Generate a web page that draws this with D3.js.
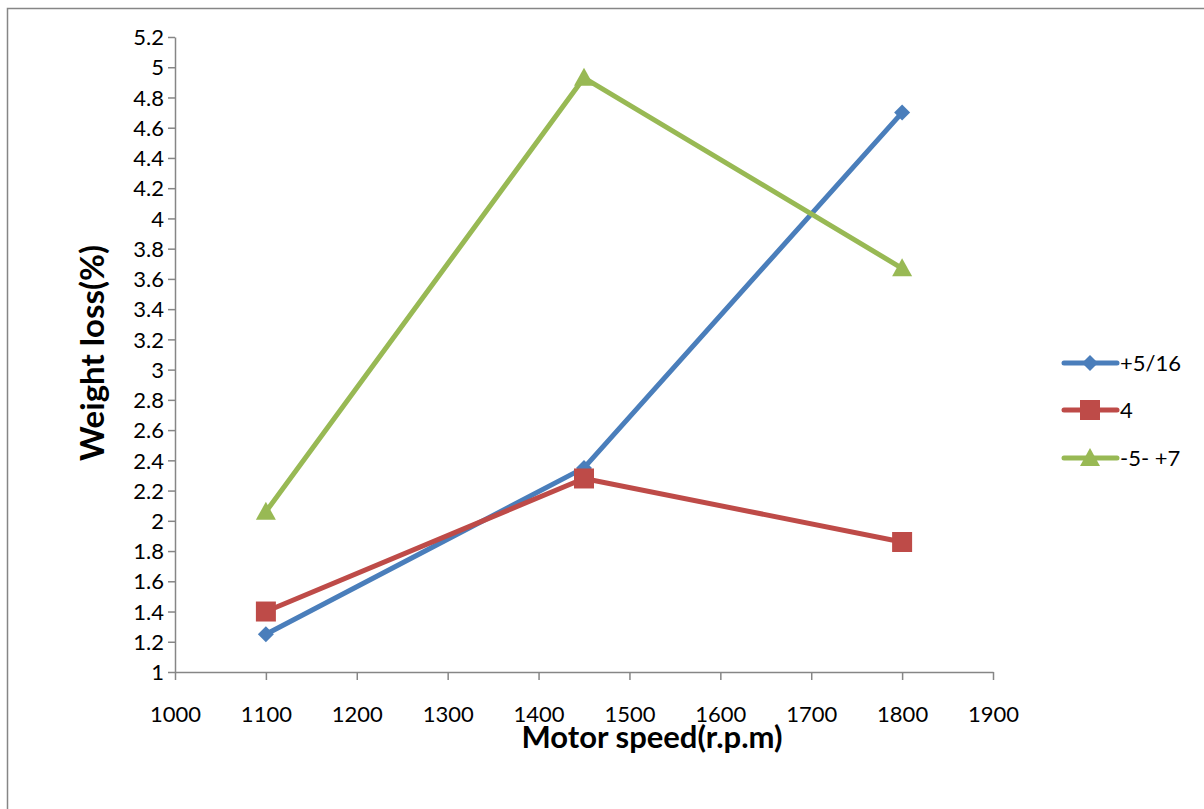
<!DOCTYPE html>
<html><head><meta charset="utf-8">
<script src="https://cdn.jsdelivr.net/npm/d3@7"></script>
<style>body{margin:0;background:#fff;} svg{display:block;font-family:Lato,"Open Sans",sans-serif;}</style>
</head><body>
<svg id="c" width="1204" height="809"></svg>
<script>
const speeds = [1100, 1450, 1800];
const seriesNames = ["+5/16", "4", "-5- +7"];
const s1 = [1.25, 2.35, 4.70];
const s2 = [1.40, 2.28, 1.86];
const s3 = [2.06, 4.93, 3.67];
const xTicks = [1000,1100,1200,1300,1400,1500,1600,1700,1800,1900];
const yTicks = [1,1.2,1.4,1.6,1.8,2,2.2,2.4,2.6,2.8,3,3.2,3.4,3.6,3.8,4,4.2,4.4,4.6,4.8,5,5.2];
const colors = ["#4A7EBB", "#BE4B48", "#98B954"];

function marker(k){
  if(k===0){ const r=8; return `M0,${-r}L${r},0L0,${r}L${-r},0Z`; }
  if(k===1){ const r=10; return `M${-r},${-r}H${r}V${r}H${-r}Z`; }
  return "M0,-10L10,8H-10Z";
}

const svg = d3.select("#c");
svg.append("path").attr("d","M7.5,809 V8.5 H1204").attr("fill","none").attr("stroke","#868686").attr("stroke-width",1.5);

const x = d3.scaleLinear().domain([1000,1900]).range([175,993]);
const y = d3.scaleLinear().domain([1,5.2]).range([672,37]);

const gx = svg.append("g").attr("transform","translate(0,672)")
  .call(d3.axisBottom(x).tickValues(xTicks).tickSize(8).tickSizeOuter(0).tickFormat(d3.format("d")));
const gy = svg.append("g").attr("transform","translate(175,0)")
  .call(d3.axisLeft(y).tickValues(yTicks).tickSize(7).tickSizeOuter(0).tickFormat(d=>String(+d.toFixed(1))));
[gx,gy].forEach(g=>{
  g.selectAll("path,line").attr("stroke","#868686").attr("stroke-width",1.5);
  g.selectAll("text").attr("fill","#000").style("font-size","22px").style("font-family","Lato,'Open Sans',sans-serif");
});
gx.selectAll("text").attr("dy","0").attr("y",50);
gy.selectAll("text").attr("x",-11).attr("dy","0.35em");

svg.append("text").attr("x",652).attr("y",748).attr("text-anchor","middle")
  .style("font-size","31px").style("font-weight","bold").text("Motor speed(r.p.m)");
svg.append("text").attr("transform","translate(104,353) rotate(-90)").attr("text-anchor","middle")
  .style("font-size","33px").style("font-weight","bold").text("Weight loss(%)");

const data = [s1,s2,s3];
const line = d3.line().x((d,i)=>x(speeds[i])).y(d=>y(d));
data.forEach((vals,k)=>{
  svg.append("path").datum(vals).attr("d",line).attr("fill","none")
    .attr("stroke",colors[k]).attr("stroke-width",5).attr("stroke-linejoin","round");
});
data.forEach((vals,k)=>{
  svg.selectAll(null).data(vals).enter().append("path")
    .attr("transform",(d,i)=>`translate(${x(speeds[i])},${y(d)})`)
    .attr("d",marker(k)).attr("fill",colors[k]);
});

const legY = [363, 410, 458];
seriesNames.forEach((n,k)=>{
  const g = svg.append("g").attr("transform",`translate(0,${legY[k]})`);
  g.append("line").attr("x1",1064).attr("x2",1117).attr("stroke",colors[k]).attr("stroke-width",5).attr("stroke-linecap","round");
  g.append("path").attr("transform","translate(1090,0)").attr("d",marker(k)).attr("fill",colors[k]);
  g.append("text").attr("x",1120).attr("dy","0.35em").style("font-size","22px").text(n);
});
</script>
</body></html>
